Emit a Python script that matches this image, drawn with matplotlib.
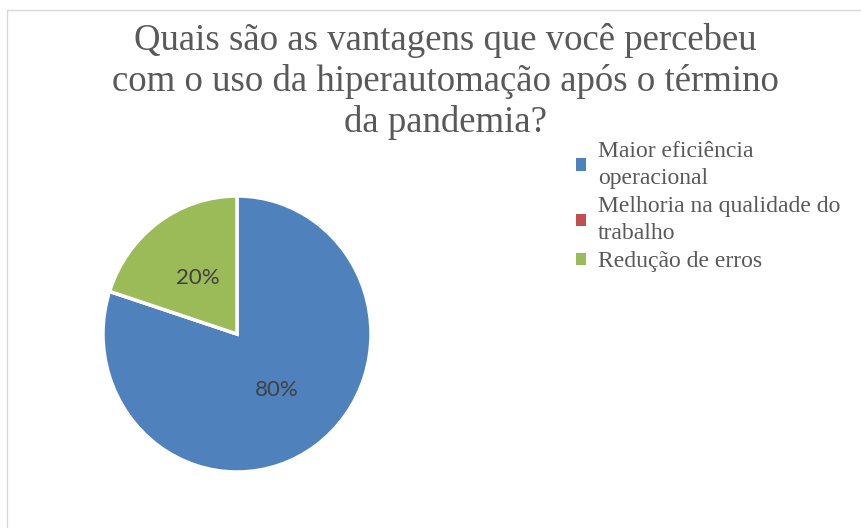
import matplotlib.pyplot as plt
from matplotlib.patches import Patch, Rectangle

# data
labels = ['Maior eficiência\noperacional', 'Melhoria na qualidade do\ntrabalho', 'Redução de erros']
values = [80, 0, 20]
colors = ['#4F81BD', '#C0504D', '#9BBB59']
title = 'Quais são as vantagens que você percebeu\ncom o uso da hiperautomação após o término\nda pandemia?'

fig = plt.figure(figsize=(8.61, 5.28), dpi=100)

# light frame around the chart area
fig.patches.append(Rectangle((7 / 861, -0.1), 1.2, 1 - 10 / 528 + 0.1, transform=fig.transFigure,
                             fill=False, edgecolor='#D9D9D9', linewidth=1))

fig.text(0.517, 1 - 23 / 528, title, ha='center', va='top', fontsize=26.5, color='#595959',
         family='Liberation Serif', linespacing=1.22)

# pie axes (center ~ (237, 334) px, slightly squeezed horizontally like the reference)
rx, ry = 134, 138
ax = fig.add_axes([(237 - rx) / 861, (528 - 334 - ry) / 528, 2 * rx / 861, 2 * ry / 528])


def fmt(p):
    return '%d%%' % round(p) if p > 0 else ''


wedges, texts, autotexts = ax.pie(values, colors=colors, startangle=90, counterclock=False,
                                  autopct=fmt, pctdistance=0.5,
                                  wedgeprops=dict(edgecolor='white', linewidth=2.5),
                                  textprops=dict(color='#404040', fontsize=16, family='Lato'))
ax.set_aspect('auto')
ax.set_xlim(-1, 1)
ax.set_ylim(-1, 1)

handles = [Patch(facecolor=c, edgecolor='none') for c in colors]
leg = fig.legend(handles, labels, loc='upper left', bbox_to_anchor=(576 / 861, 1 - 141 / 528),
                 frameon=False, prop=dict(family='Liberation Serif', size=17),
                 labelcolor='#595959', handlelength=0.42, handleheight=0.42, handletextpad=0.5,
                 labelspacing=0.3, borderpad=0, borderaxespad=0)
for t in leg.get_texts():
    t.set_linespacing(1.38)

fig.savefig('out.png', dpi=100, facecolor='white')
